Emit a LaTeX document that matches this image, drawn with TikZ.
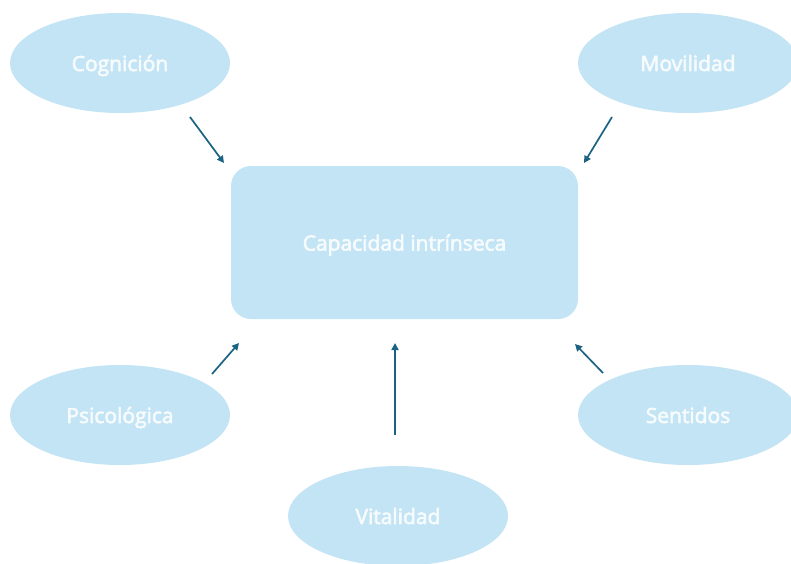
\documentclass[tikz,border=0pt]{standalone}
\usepackage{fontspec}
\setmainfont{Open Sans}[FakeBold=3]
\usetikzlibrary{arrows.meta,shapes.geometric}
\definecolor{bubble}{HTML}{C3E4F4}
\definecolor{arrowc}{HTML}{1B6383}
\definecolor{txt}{HTML}{F6FBFE}
\tikzset{
  bubble/.style={ellipse, fill=bubble, minimum width=220pt, minimum height=100pt, inner sep=0pt, text=txt, text depth=0pt, font=\fontsize{21}{25}\selectfont},
  core/.style={rectangle, rounded corners=20pt, fill=bubble, minimum width=347pt, minimum height=153pt, inner sep=0pt, text=txt, text depth=0pt, font=\fontsize{21}{25}\selectfont},
  link/.style={draw=arrowc, line width=1.7pt, -{Triangle[length=7pt,width=7pt]}}
}
\begin{document}
\begin{tikzpicture}[x=1pt,y=-1pt]
\useasboundingbox (0,0) rectangle (791,563);
\node[core] (cap) at (404.5,242.5) {Capacidad intrínseca};
\node[bubble] (cog) at (120,63) {Cognición};
\node[bubble] (mov) at (688,63) {Movilidad};
\node[bubble] (psi) at (120,415) {Psicológica};
\node[bubble] (sen) at (688,415) {Sentidos};
\node[bubble] (vit) at (398,516) {Vitalidad};
\coordinate (cogA) at (190,117);
\coordinate (cogB) at (224,163);
\coordinate (movA) at (612,117);
\coordinate (movB) at (584,163);
\coordinate (psiA) at (212,374);
\coordinate (psiB) at (239,343);
\coordinate (vitA) at (395,435);
\coordinate (vitB) at (395,343);
\coordinate (senA) at (603,373);
\coordinate (senB) at (575,344);
\draw[link] (cogA) -- (cogB);
\draw[link] (movA) -- (movB);
\draw[link] (psiA) -- (psiB);
\draw[link] (vitA) -- (vitB);
\draw[link] (senA) -- (senB);
\end{tikzpicture}
\end{document}
